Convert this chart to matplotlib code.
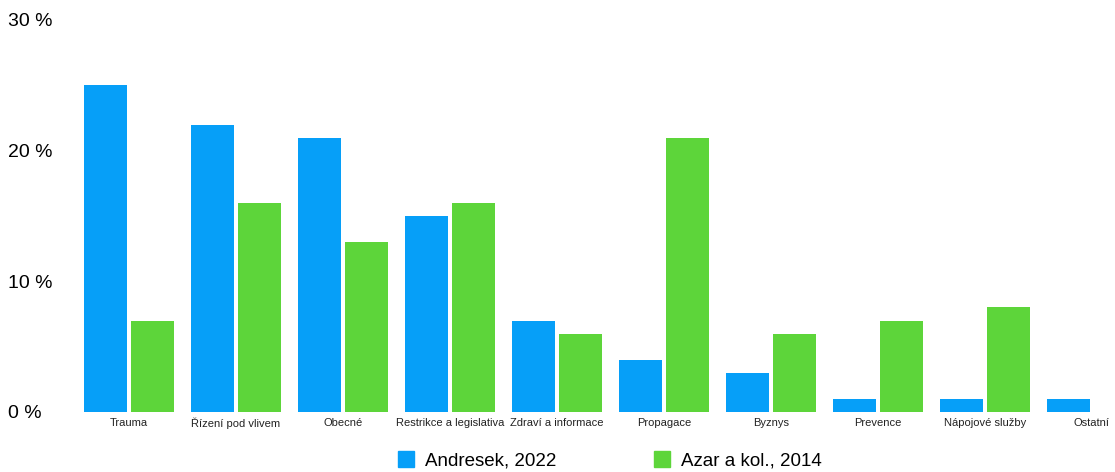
import matplotlib.pyplot as plt
import matplotlib.patches as patches
import numpy as np

plt.rcParams['font.family'] = ['Liberation Sans', 'DejaVu Sans']

categories = ["Trauma", "Řízení pod vlivem", "Obecné", "Restrikce a legislativa",
              "Zdraví a informace", "Propagace", "Byznys", "Prevence",
              "Nápojové služby", "Ostatní"]
andresek_2022 = [25, 22, 21, 15, 7, 4, 3, 1, 1, 1]
azar_2014 = [7, 16, 13, 16, 6, 21, 6, 7, 8, 0]
series_names = ["Andresek, 2022", "Azar a kol., 2014"]
y_ticks = [0, 10, 20, 30]

blue = '#069FF8'
green = '#5DD53A'

fig = plt.figure(figsize=(11.15, 4.72), dpi=100)
ax = fig.add_axes([75 / 1115, 60 / 472, 1040 / 1115, 392 / 472])

x = np.arange(len(categories))
w = 43 / 107
gap = 4 / 107
ax.bar(x - (w + gap) / 2, andresek_2022, width=w, color=blue, linewidth=0)
ax.bar(x + (w + gap) / 2, azar_2014, width=w, color=green, linewidth=0)

ax.set_xlim(-0.505, 9.215)
ax.set_ylim(0, 30)
ax.set_xticks(x)
ax.set_xticklabels(categories, fontsize=8, color='#222222')
ax.set_yticks(y_ticks)
ax.set_yticklabels([f"{v} %" for v in y_ticks], fontsize=14, ha='left')
ax.tick_params(axis='x', length=0, pad=4)
ax.tick_params(axis='y', length=0, pad=48)
for s in ax.spines.values():
    s.set_visible(False)

handles = [patches.Patch(color=blue), patches.Patch(color=green)]
fig.legend(handles, series_names, loc='center', bbox_to_anchor=(0.547, 0.025),
           ncol=2, frameon=False, fontsize=13.5, handlelength=0.85,
           handleheight=0.9, handletextpad=0.6, columnspacing=5.2)

fig.savefig('out.png', dpi=100)
